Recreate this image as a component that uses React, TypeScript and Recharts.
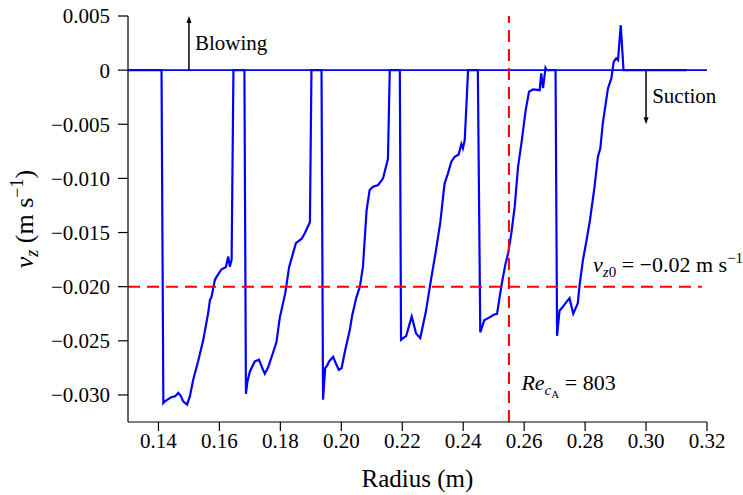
import { Label, Line, LineChart, ReferenceDot, ReferenceLine, XAxis, YAxis } from "recharts";

// radius (m) and axial velocity v_z (m/s)
const radius = [
  0.13, 0.141, 0.1416, 0.1421, 0.1432, 0.1443, 0.1454, 0.1465, 0.1473, 0.1481, 0.1494, 0.1503, 0.1514, 0.153,
  0.1547, 0.1563, 0.1569, 0.1574, 0.1585, 0.1591, 0.1607, 0.1621, 0.1629, 0.1634, 0.164, 0.1646, 0.1682,
  0.1687, 0.1692, 0.17, 0.1716, 0.173, 0.1743, 0.1749, 0.176, 0.1771, 0.1787, 0.1798, 0.1816, 0.1829, 0.1851,
  0.187, 0.188, 0.1897, 0.1902, 0.1935,
  0.194, 0.1947, 0.1953, 0.196, 0.1973, 0.1984, 0.1992, 0.2001, 0.2013, 0.2028, 0.2035, 0.2049, 0.2061,
  0.2071, 0.2083, 0.2093, 0.2104, 0.2121, 0.2137, 0.2153, 0.2159, 0.2192,
  0.2196, 0.2213, 0.2231, 0.2245, 0.2259, 0.2277, 0.2296, 0.231, 0.2325, 0.2334, 0.2339, 0.235, 0.2361,
  0.2372, 0.2385, 0.2394, 0.2399, 0.2405, 0.2416, 0.2448,
  0.2456, 0.2469, 0.2489, 0.25, 0.2511, 0.2525, 0.2538, 0.2548, 0.2558, 0.2569, 0.258, 0.2591, 0.2605,
  0.2616, 0.2629, 0.2651, 0.2656, 0.2662, 0.267, 0.2674, 0.2703,
  0.2708, 0.2716, 0.2727, 0.2739, 0.2749, 0.2761, 0.2776, 0.2782, 0.2793, 0.2805, 0.2816, 0.2831, 0.2842,
  0.285, 0.2858, 0.2875, 0.2886, 0.2894, 0.2902, 0.2908, 0.2917, 0.2926, 0.3133
];
const velocity = [
  0, 0, -0.03075, -0.0306, -0.03038, -0.03019, -0.03014, -0.02982, -0.03007, -0.0306, -0.0309, -0.03014,
  -0.0286, -0.02691, -0.02491, -0.02244, -0.02122, -0.02097, -0.01937, -0.01907, -0.01839, -0.0182, -0.01722,
  -0.01815, -0.01753, 0, 0,
  -0.0299, -0.02875, -0.02783, -0.02691, -0.02675, -0.02768, -0.02804, -0.02744, -0.02652, -0.02514, -0.02288,
  -0.0206, -0.01815, -0.01599, -0.01557, -0.01506, -0.01404, 0, 0,
  -0.03044, -0.02752, -0.02731, -0.02691, -0.02648, -0.02721, -0.02768, -0.02752, -0.02583, -0.02399,
  -0.02276, -0.02103, -0.01999, -0.01815, -0.01292, -0.01107, -0.01077, -0.01061, -0.00999, -0.00819, 0, 0,
  -0.02491, -0.02454, -0.02276, -0.02429, -0.02475, -0.02237, -0.01907, -0.01676, -0.01402, -0.01169,
  -0.01045, -0.00953, -0.00846, -0.008, -0.0078, -0.00683, -0.00722, -0.00646, 0, 0,
  -0.02422, -0.02311, -0.02279, -0.0226, -0.02251, -0.01999, -0.01799, -0.01684, -0.01506, -0.01261,
  -0.00892, -0.00676, -0.00369, -0.002, -0.00178, -0.00185, -0.0003, -0.00166, 0.00021, 0, 0,
  -0.02454, -0.02223, -0.02186, -0.0214, -0.02106, -0.02251, -0.02152, -0.01983, -0.01753, -0.01568,
  -0.01384, -0.01077, -0.008, -0.00722, -0.00492, -0.00169, -0.00077, 0.00077, 0.00108, 0.00092, 0.00415, 0, 0
];

const xTicks = [0.14, 0.16, 0.18, 0.2, 0.22, 0.24, 0.26, 0.28, 0.3, 0.32];
const yTicks = [0.005, 0, -0.005, -0.01, -0.015, -0.02, -0.025, -0.03];
const vz0 = -0.02;
const reCritical = 0.255;

const data = radius.map((r, i) => ({ r, vz: velocity[i] }));

const serif = "Liberation Serif, serif";
const fontStyle = { fontFamily: serif };

const fmtY = (v: number) => (Math.abs(v) < 1e-9 ? "0" : v.toFixed(3).replace("-", "\u2212"));

function arrow(p: any) {
  const { x1, y1, x2, y2 } = p;
  const dir = y2 < y1 ? -1 : 1;
  const head = 7;
  return (
    <g>
      <line x1={x1} y1={y1} x2={x2} y2={y2 - dir * head} stroke="#000" strokeWidth={1.5} />
      <polygon points={`${x2},${y2} ${x2 - 2.5},${y2 - dir * head} ${x2 + 2.5},${y2 - dir * head}`} fill="#000" />
    </g>
  );
}

const textAt = (content: (x: number, y: number) => any) => (p: any) => content(p.cx, p.cy);

export default function App() {
  return (
    <div style={{ position: "absolute", left: 0, top: 0, width: 743, height: 495, background: "#fff", fontFamily: serif }}>
      <LineChart width={743} height={495} data={data} margin={{ top: 16, right: 36, bottom: 0, left: 0 }} style={fontStyle}>
        <XAxis
          dataKey="r"
          type="number"
          domain={[0.13, 0.32]}
          ticks={xTicks}
          interval={0}
          allowDataOverflow
          height={73}
          tickSize={9}
          tickMargin={2}
          tickFormatter={(v: number) => v.toFixed(2)}
          tick={{ fill: "#000", fontSize: 21, fontFamily: serif, style: fontStyle }}
          tickLine={{ stroke: "#000", strokeWidth: 1.2 }}
          axisLine={{ stroke: "#000", strokeWidth: 1.2 }}
        >
          <Label
            content={(p: any) => {
              const vb = p.viewBox || { x: 128, y: 422, width: 579 };
              return (
                <text x={vb.x + vb.width / 2} y={vb.y + 65} textAnchor="middle" fontSize={25} style={fontStyle} fill="#000">
                  Radius (m)
                </text>
              );
            }}
          />
        </XAxis>
        <YAxis
          type="number"
          domain={[-0.0325, 0.005]}
          ticks={yTicks}
          interval={0}
          allowDataOverflow
          width={128}
          tickSize={10}
          tickMargin={8}
          tickFormatter={fmtY}
          tick={{ fill: "#000", fontSize: 21, fontFamily: serif, style: fontStyle }}
          tickLine={{ stroke: "#000", strokeWidth: 1.2 }}
          axisLine={{ stroke: "#000", strokeWidth: 1.2 }}
        >
          <Label
            content={(p: any) => {
              const vb = p.viewBox || { x: 0, y: 16, width: 128, height: 406 };
              const cx = 33;
              const cy = vb.y + vb.height / 2;
              return (
                <text x={cx} y={cy} transform={`rotate(-90 ${cx} ${cy})`} textAnchor="middle" fontSize={26} style={fontStyle} fill="#000">
                  <tspan fontStyle="italic">v</tspan>
                  <tspan fontStyle="italic" fontSize={18} dy={5}>z</tspan>
                  <tspan dy={-5}> (m s</tspan>
                  <tspan fontSize={18} dy={-10}>{"\u22121"}</tspan>
                  <tspan dy={10}>)</tspan>
                </text>
              );
            }}
          />
        </YAxis>

        <ReferenceLine y={0} stroke="#0000ff" strokeWidth={1.6} />
        <Line type="linear" dataKey="vz" stroke="#0000ff" strokeWidth={2.2} dot={false} isAnimationActive={false} />

        <ReferenceLine
          segment={[{ x: 0.13, y: vz0 }, { x: 0.3183, y: vz0 }]}
          stroke="#ff0000"
          strokeWidth={2}
          strokeDasharray="12 7"
        />
        <ReferenceLine x={reCritical} stroke="#ff0000" strokeWidth={2} strokeDasharray="12 7" />

        <ReferenceLine segment={[{ x: 0.15, y: 0 }, { x: 0.15, y: 0.005 }]} shape={arrow} />
        <ReferenceLine segment={[{ x: 0.3, y: 0 }, { x: 0.3, y: -0.005 }]} shape={arrow} />

        <ReferenceDot
          x={0.152}
          y={0.00185}
          r={1}
          shape={textAt((x, y) => (
            <text x={x} y={y} fontSize={21} style={fontStyle} fill="#000">Blowing</text>
          ))}
        />
        <ReferenceDot
          x={0.302}
          y={-0.00302}
          r={1}
          shape={textAt((x, y) => (
            <text x={x} y={y} fontSize={21} style={fontStyle} fill="#000">Suction</text>
          ))}
        />
        <ReferenceDot
          x={0.2826}
          y={-0.01861}
          r={1}
          shape={textAt((x, y) => (
            <text x={x} y={y} fontSize={22} style={fontStyle} fill="#000">
              <tspan fontStyle="italic">v</tspan>
              <tspan fontStyle="italic" fontSize={15} dy={5}>z</tspan>
              <tspan fontSize={15}>0</tspan>
              <tspan dy={-5}>{" = \u22120.02 m s"}</tspan>
              <tspan fontSize={15} dy={-9}>{"\u22121"}</tspan>
            </text>
          ))}
        />
        <ReferenceDot
          x={0.2591}
          y={-0.02952}
          r={1}
          shape={textAt((x, y) => (
            <text x={x} y={y} fontSize={22} style={fontStyle} fill="#000">
              <tspan fontStyle="italic">Re</tspan>
              <tspan fontStyle="italic" fontSize={15} dy={5}>c</tspan>
              <tspan fontSize={11} dy={3}>A</tspan>
              <tspan dy={-8}>{" = 803"}</tspan>
            </text>
          ))}
        />
      </LineChart>
    </div>
  );
}
